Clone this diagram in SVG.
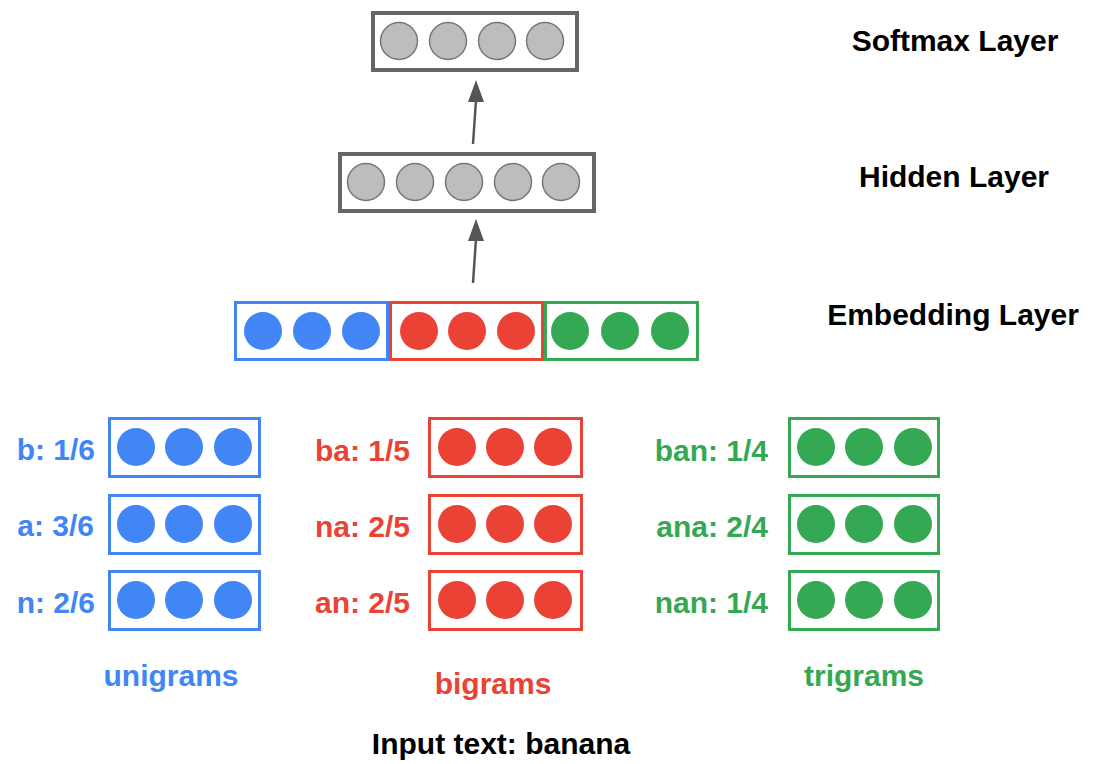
<svg xmlns="http://www.w3.org/2000/svg" width="1093" height="764" viewBox="0 0 1093 764">
<style>
text{font-family:"Liberation Sans",Arial,sans-serif;font-weight:bold;font-size:30px}
.lbl{fill:#000;text-anchor:middle}
.gbox{fill:#fff;stroke:#666;stroke-width:4}
.gc{fill:#bdbdbd;stroke:#777;stroke-width:1.5}
.bbox{fill:#fff;stroke:#4285F4;stroke-width:3}
.rbox{fill:#fff;stroke:#EA4335;stroke-width:3}
.tbox{fill:#fff;stroke:#34A853;stroke-width:3}
.bc{fill:#4285F4}.rc{fill:#EA4335}.tc{fill:#34A853}
.bt{fill:#4285F4}.rt{fill:#EA4335}.tt{fill:#34A853}
.conn{stroke:#555;stroke-width:2.5;fill:none}
.head{fill:#555}
</style>
<rect width="1093" height="764" fill="#fff"/>
<g id="connectors">
<line class="conn" x1="473" y1="144" x2="476" y2="100"/>
<path class="head" d="M476,80 L484,102 L468,102 Z"/>
<line class="conn" x1="473" y1="283" x2="476" y2="239"/>
<path class="head" d="M476,219 L484,241 L468,241 Z"/>
</g>
<g id="softmax">
<rect class="gbox" x="373" y="13" width="204" height="57"/>
<circle class="gc" cx="399" cy="41" r="18.5"/>
<circle class="gc" cx="448" cy="41" r="18.5"/>
<circle class="gc" cx="497" cy="41" r="18.5"/>
<circle class="gc" cx="545" cy="41" r="18.5"/>
</g>
<g id="hidden">
<rect class="gbox" x="340" y="154" width="254" height="57"/>
<circle class="gc" cx="366" cy="182" r="18.5"/>
<circle class="gc" cx="415" cy="182" r="18.5"/>
<circle class="gc" cx="464" cy="182" r="18.5"/>
<circle class="gc" cx="513" cy="182" r="18.5"/>
<circle class="gc" cx="561" cy="182" r="18.5"/>
</g>
<g id="embedding">
<rect class="bbox" x="235.5" y="302.5" width="152" height="57"/>
<circle class="bc" cx="263" cy="331" r="19"/>
<circle class="bc" cx="312" cy="331" r="19"/>
<circle class="bc" cx="361" cy="331" r="19"/>
<rect class="rbox" x="390.5" y="302.5" width="152" height="57"/>
<circle class="rc" cx="419" cy="331" r="19"/>
<circle class="rc" cx="467" cy="331" r="19"/>
<circle class="rc" cx="516" cy="331" r="19"/>
<rect class="tbox" x="545.5" y="302.5" width="152" height="57"/>
<circle class="tc" cx="570" cy="331" r="19"/>
<circle class="tc" cx="620" cy="331" r="19"/>
<circle class="tc" cx="670" cy="331" r="19"/>
</g>
<g id="layer-labels">
<text class="lbl" x="955" y="51">Softmax Layer</text>
<text class="lbl" x="954" y="187">Hidden Layer</text>
<text class="lbl" x="953" y="325">Embedding Layer</text>
</g>
<g id="unigrams">
<rect class="bbox" x="109.5" y="418.5" width="150" height="58"/>
<circle class="bc" cx="136" cy="447" r="19"/>
<circle class="bc" cx="184" cy="447" r="19"/>
<circle class="bc" cx="233" cy="447" r="19"/>
<text class="bt" x="95" y="460" text-anchor="end">b: 1/6</text>
<rect class="bbox" x="109.5" y="495.5" width="150" height="58"/>
<circle class="bc" cx="136" cy="524" r="19"/>
<circle class="bc" cx="184" cy="524" r="19"/>
<circle class="bc" cx="233" cy="524" r="19"/>
<text class="bt" x="94" y="536" text-anchor="end">a: 3/6</text>
<rect class="bbox" x="109.5" y="571.5" width="150" height="58"/>
<circle class="bc" cx="136" cy="600" r="19"/>
<circle class="bc" cx="184" cy="600" r="19"/>
<circle class="bc" cx="233" cy="600" r="19"/>
<text class="bt" x="95" y="613" text-anchor="end">n: 2/6</text>
<text class="bt" x="171" y="686" text-anchor="middle">unigrams</text>
</g>
<g id="bigrams">
<rect class="rbox" x="429.5" y="418.5" width="152" height="58"/>
<circle class="rc" cx="457" cy="447" r="19"/>
<circle class="rc" cx="505" cy="447" r="19"/>
<circle class="rc" cx="553" cy="447" r="19"/>
<text class="rt" x="410" y="461" text-anchor="end">ba: 1/5</text>
<rect class="rbox" x="429.5" y="495.5" width="152" height="58"/>
<circle class="rc" cx="457" cy="524" r="19"/>
<circle class="rc" cx="505" cy="524" r="19"/>
<circle class="rc" cx="553" cy="524" r="19"/>
<text class="rt" x="410" y="537" text-anchor="end">na: 2/5</text>
<rect class="rbox" x="429.5" y="571.5" width="152" height="58"/>
<circle class="rc" cx="457" cy="600" r="19"/>
<circle class="rc" cx="505" cy="600" r="19"/>
<circle class="rc" cx="553" cy="600" r="19"/>
<text class="rt" x="410" y="613" text-anchor="end">an: 2/5</text>
<text class="rt" x="493" y="694" text-anchor="middle">bigrams</text>
</g>
<g id="trigrams">
<rect class="tbox" x="789.5" y="418.5" width="149" height="58"/>
<circle class="tc" cx="816" cy="447" r="19"/>
<circle class="tc" cx="864" cy="447" r="19"/>
<circle class="tc" cx="913" cy="447" r="19"/>
<text class="tt" x="768" y="461" text-anchor="end">ban: 1/4</text>
<rect class="tbox" x="789.5" y="495.5" width="149" height="58"/>
<circle class="tc" cx="816" cy="524" r="19"/>
<circle class="tc" cx="864" cy="524" r="19"/>
<circle class="tc" cx="913" cy="524" r="19"/>
<text class="tt" x="768" y="537" text-anchor="end">ana: 2/4</text>
<rect class="tbox" x="789.5" y="571.5" width="149" height="58"/>
<circle class="tc" cx="816" cy="600" r="19"/>
<circle class="tc" cx="864" cy="600" r="19"/>
<circle class="tc" cx="913" cy="600" r="19"/>
<text class="tt" x="768" y="613" text-anchor="end">nan: 1/4</text>
<text class="tt" x="864" y="686" text-anchor="middle">trigrams</text>
</g>
<g id="input">
<text class="lbl" x="501" y="754">Input text: banana</text>
</g>
</svg>
